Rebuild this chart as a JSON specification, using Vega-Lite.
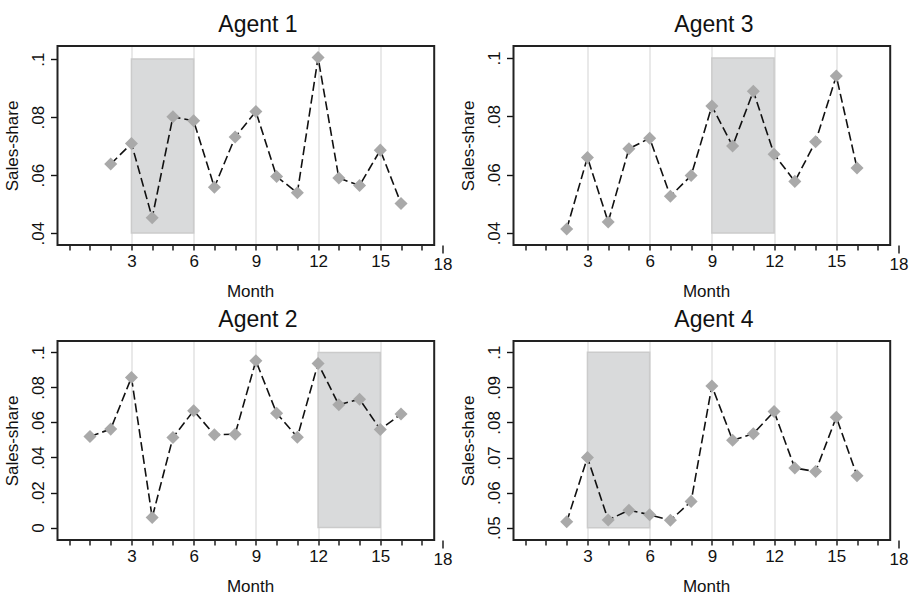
{
  "$schema": "https://vega.github.io/schema/vega-lite/v6.json",
  "padding": {"left": 3.5, "top": 14, "right": 5, "bottom": 5},
  "background": "white",
  "bounds": "flush",
  "columns": 2,
  "spacing": {"row": 96, "column": 71},
  "datasets": {
    "sales": [
      {"agent": "Agent 1", "month": 2, "share": 0.0638},
      {"agent": "Agent 1", "month": 3, "share": 0.0709},
      {"agent": "Agent 1", "month": 4, "share": 0.0453},
      {"agent": "Agent 1", "month": 5, "share": 0.0801},
      {"agent": "Agent 1", "month": 6, "share": 0.0787},
      {"agent": "Agent 1", "month": 7, "share": 0.0558},
      {"agent": "Agent 1", "month": 8, "share": 0.0731},
      {"agent": "Agent 1", "month": 9, "share": 0.0819},
      {"agent": "Agent 1", "month": 10, "share": 0.0595},
      {"agent": "Agent 1", "month": 11, "share": 0.0539},
      {"agent": "Agent 1", "month": 12, "share": 0.1005},
      {"agent": "Agent 1", "month": 13, "share": 0.059},
      {"agent": "Agent 1", "month": 14, "share": 0.0564},
      {"agent": "Agent 1", "month": 15, "share": 0.0686},
      {"agent": "Agent 1", "month": 16, "share": 0.0502},
      {"agent": "Agent 3", "month": 2, "share": 0.0414},
      {"agent": "Agent 3", "month": 3, "share": 0.0659},
      {"agent": "Agent 3", "month": 4, "share": 0.0438},
      {"agent": "Agent 3", "month": 5, "share": 0.0689},
      {"agent": "Agent 3", "month": 6, "share": 0.0725},
      {"agent": "Agent 3", "month": 7, "share": 0.0526},
      {"agent": "Agent 3", "month": 8, "share": 0.0597},
      {"agent": "Agent 3", "month": 9, "share": 0.0835},
      {"agent": "Agent 3", "month": 10, "share": 0.0698},
      {"agent": "Agent 3", "month": 11, "share": 0.0886},
      {"agent": "Agent 3", "month": 12, "share": 0.067},
      {"agent": "Agent 3", "month": 13, "share": 0.0577},
      {"agent": "Agent 3", "month": 14, "share": 0.0713},
      {"agent": "Agent 3", "month": 15, "share": 0.0938},
      {"agent": "Agent 3", "month": 16, "share": 0.0623},
      {"agent": "Agent 2", "month": 1, "share": 0.052},
      {"agent": "Agent 2", "month": 2, "share": 0.0562},
      {"agent": "Agent 2", "month": 3, "share": 0.0857},
      {"agent": "Agent 2", "month": 4, "share": 0.0057},
      {"agent": "Agent 2", "month": 5, "share": 0.0514},
      {"agent": "Agent 2", "month": 6, "share": 0.0667},
      {"agent": "Agent 2", "month": 7, "share": 0.053},
      {"agent": "Agent 2", "month": 8, "share": 0.0533},
      {"agent": "Agent 2", "month": 9, "share": 0.0952},
      {"agent": "Agent 2", "month": 10, "share": 0.0653},
      {"agent": "Agent 2", "month": 11, "share": 0.0516},
      {"agent": "Agent 2", "month": 12, "share": 0.0937},
      {"agent": "Agent 2", "month": 13, "share": 0.0701},
      {"agent": "Agent 2", "month": 14, "share": 0.0733},
      {"agent": "Agent 2", "month": 15, "share": 0.056},
      {"agent": "Agent 2", "month": 16, "share": 0.0648},
      {"agent": "Agent 4", "month": 2, "share": 0.0517},
      {"agent": "Agent 4", "month": 3, "share": 0.07},
      {"agent": "Agent 4", "month": 4, "share": 0.0522},
      {"agent": "Agent 4", "month": 5, "share": 0.055},
      {"agent": "Agent 4", "month": 6, "share": 0.0537},
      {"agent": "Agent 4", "month": 7, "share": 0.0521},
      {"agent": "Agent 4", "month": 8, "share": 0.0575},
      {"agent": "Agent 4", "month": 9, "share": 0.0904},
      {"agent": "Agent 4", "month": 10, "share": 0.0749},
      {"agent": "Agent 4", "month": 11, "share": 0.0768},
      {"agent": "Agent 4", "month": 12, "share": 0.0831},
      {"agent": "Agent 4", "month": 13, "share": 0.067},
      {"agent": "Agent 4", "month": 14, "share": 0.066},
      {"agent": "Agent 4", "month": 15, "share": 0.0815},
      {"agent": "Agent 4", "month": 16, "share": 0.0648}
    ],
    "shade": [
      {"agent": "Agent 1", "start": 3, "end": 6, "lo": 0.04, "hi": 0.1},
      {"agent": "Agent 3", "start": 9, "end": 12, "lo": 0.04, "hi": 0.1},
      {"agent": "Agent 2", "start": 12, "end": 15, "lo": 0, "hi": 0.1},
      {"agent": "Agent 4", "start": 3, "end": 6, "lo": 0.05, "hi": 0.1}
    ]
  },
  "config": {
    "view": {"stroke": null},
    "font": "Liberation Sans",
    "axis": {
      "labelFont": "Liberation Sans",
      "titleFont": "Liberation Sans",
      "labelFontSize": 17,
      "titleFontSize": 17,
      "titleFontWeight": "normal",
      "labelColor": "#111",
      "titleColor": "#111",
      "tickColor": "#111",
      "tickWidth": 1.4,
      "tickCount": 50,
      "domain": false,
      "labelOverlap": false,
      "labelFlush": false
    },
    "axisX": {
      "grid": true,
      "gridColor": "#e2e2e2",
      "gridWidth": 1.5,
      "labelPadding": 3,
      "titlePadding": 11,
      "format": "d"
    },
    "axisY": {
      "grid": false,
      "tickSize": 7,
      "labelAngle": -90,
      "labelAlign": "center",
      "labelBaseline": "bottom",
      "labelPadding": 3,
      "titlePadding": 8
    },
    "title": {"fontSize": 23, "fontWeight": "normal", "font": "Liberation Sans", "color": "#111", "dx": 8, "offset": 8}
  },
  "concat": [
    {
      "width": 385, "height": 199,
      "title": "Agent 1",
      "layer": [
        {
          "data": {"name": "shade"},
          "transform": [{"filter": "datum.agent == 'Agent 1'"}],
          "mark": {"type": "rect", "fill": "#d9dadb", "stroke": "#cbcbcb", "strokeWidth": 1.5},
          "encoding": {
            "x": {"field": "start", "type": "quantitative", "scale": {"domain": [-0.566, 18], "nice": false, "zero": false},
              "axis": {"title": "Month", "format": "d", "values": [0,1,2,3,4,5,6,7,8,9,10,11,12,13,14,15,16,17,18],
                "gridOpacity": {"condition": {"test": "datum.value % 3 == 0 && datum.value > 0 && datum.value < 18", "value": 1}, "value": 0},
                "tickSize": {"condition": {"test": "datum.value == 18", "value": 8}, "value": 5},
                "labelExpr": "datum.value % 3 == 0 && datum.value > 0 ? datum.label : ''"}},
            "x2": {"field": "end"},
            "y": {"field": "lo", "type": "quantitative", "scale": {"domain": [0.0359, 0.1045], "nice": false, "zero": false},
              "axis": {"title": "Sales-share", "values": [0.04, 0.06, 0.08, 0.1],
                "labelExpr": "datum.value == 0 ? '0' : substring(format(datum.value, '.2~f'), 1)"}},
            "y2": {"field": "hi"}
          }
        },
        {
          "data": {"name": "sales"},
          "transform": [{"filter": "datum.agent == 'Agent 1'"}],
          "mark": {"type": "line", "color": "#111", "strokeDash": [9, 4], "strokeWidth": 1.6},
          "encoding": {"x": {"field": "month", "type": "quantitative"}, "y": {"field": "share", "type": "quantitative"}}
        },
        {
          "data": {"name": "sales"},
          "transform": [{"filter": "datum.agent == 'Agent 1'"}],
          "mark": {"type": "point", "shape": "diamond", "filled": true, "color": "#a9a9a9", "size": 170, "opacity": 1},
          "encoding": {"x": {"field": "month", "type": "quantitative"}, "y": {"field": "share", "type": "quantitative"}}
        },
        {
          "data": {"values": [{}]},
          "mark": {"type": "rect", "fill": "transparent", "stroke": "#222", "strokeWidth": 2},
          "encoding": {"x": {"datum": -0.566}, "x2": {"datum": 17.6}, "y": {"datum": 0.0359}, "y2": {"datum": 0.1045}}
        }
      ]
    },
    {
      "width": 385, "height": 199,
      "title": "Agent 3",
      "layer": [
        {
          "data": {"name": "shade"},
          "transform": [{"filter": "datum.agent == 'Agent 3'"}],
          "mark": {"type": "rect", "fill": "#d9dadb", "stroke": "#cbcbcb", "strokeWidth": 1.5},
          "encoding": {
            "x": {"field": "start", "type": "quantitative", "scale": {"domain": [-0.566, 18], "nice": false, "zero": false},
              "axis": {"title": "Month", "format": "d", "values": [0,1,2,3,4,5,6,7,8,9,10,11,12,13,14,15,16,17,18],
                "gridOpacity": {"condition": {"test": "datum.value % 3 == 0 && datum.value > 0 && datum.value < 18", "value": 1}, "value": 0},
                "tickSize": {"condition": {"test": "datum.value == 18", "value": 8}, "value": 5},
                "labelExpr": "datum.value % 3 == 0 && datum.value > 0 ? datum.label : ''"}},
            "x2": {"field": "end"},
            "y": {"field": "lo", "type": "quantitative", "scale": {"domain": [0.0359, 0.1041], "nice": false, "zero": false},
              "axis": {"title": "Sales-share", "values": [0.04, 0.06, 0.08, 0.1],
                "labelExpr": "datum.value == 0 ? '0' : substring(format(datum.value, '.2~f'), 1)"}},
            "y2": {"field": "hi"}
          }
        },
        {
          "data": {"name": "sales"},
          "transform": [{"filter": "datum.agent == 'Agent 3'"}],
          "mark": {"type": "line", "color": "#111", "strokeDash": [9, 4], "strokeWidth": 1.6},
          "encoding": {"x": {"field": "month", "type": "quantitative"}, "y": {"field": "share", "type": "quantitative"}}
        },
        {
          "data": {"name": "sales"},
          "transform": [{"filter": "datum.agent == 'Agent 3'"}],
          "mark": {"type": "point", "shape": "diamond", "filled": true, "color": "#a9a9a9", "size": 170, "opacity": 1},
          "encoding": {"x": {"field": "month", "type": "quantitative"}, "y": {"field": "share", "type": "quantitative"}}
        },
        {
          "data": {"values": [{}]},
          "mark": {"type": "rect", "fill": "transparent", "stroke": "#222", "strokeWidth": 2},
          "encoding": {"x": {"datum": -0.566}, "x2": {"datum": 17.6}, "y": {"datum": 0.0359}, "y2": {"datum": 0.1041}}
        }
      ]
    },
    {
      "width": 385, "height": 199,
      "title": "Agent 2",
      "layer": [
        {
          "data": {"name": "shade"},
          "transform": [{"filter": "datum.agent == 'Agent 2'"}],
          "mark": {"type": "rect", "fill": "#d9dadb", "stroke": "#cbcbcb", "strokeWidth": 1.5},
          "encoding": {
            "x": {"field": "start", "type": "quantitative", "scale": {"domain": [-0.566, 18], "nice": false, "zero": false},
              "axis": {"title": "Month", "format": "d", "values": [0,1,2,3,4,5,6,7,8,9,10,11,12,13,14,15,16,17,18],
                "gridOpacity": {"condition": {"test": "datum.value % 3 == 0 && datum.value > 0 && datum.value < 18", "value": 1}, "value": 0},
                "tickSize": {"condition": {"test": "datum.value == 18", "value": 8}, "value": 5},
                "labelExpr": "datum.value % 3 == 0 && datum.value > 0 ? datum.label : ''"}},
            "x2": {"field": "end"},
            "y": {"field": "lo", "type": "quantitative", "scale": {"domain": [-0.0071, 0.1065], "nice": false, "zero": false},
              "axis": {"title": "Sales-share", "values": [0, 0.02, 0.04, 0.06, 0.08, 0.1],
                "labelExpr": "datum.value == 0 ? '0' : substring(format(datum.value, '.2~f'), 1)"}},
            "y2": {"field": "hi"}
          }
        },
        {
          "data": {"name": "sales"},
          "transform": [{"filter": "datum.agent == 'Agent 2'"}],
          "mark": {"type": "line", "color": "#111", "strokeDash": [9, 4], "strokeWidth": 1.6},
          "encoding": {"x": {"field": "month", "type": "quantitative"}, "y": {"field": "share", "type": "quantitative"}}
        },
        {
          "data": {"name": "sales"},
          "transform": [{"filter": "datum.agent == 'Agent 2'"}],
          "mark": {"type": "point", "shape": "diamond", "filled": true, "color": "#a9a9a9", "size": 170, "opacity": 1},
          "encoding": {"x": {"field": "month", "type": "quantitative"}, "y": {"field": "share", "type": "quantitative"}}
        },
        {
          "data": {"values": [{}]},
          "mark": {"type": "rect", "fill": "transparent", "stroke": "#222", "strokeWidth": 2},
          "encoding": {"x": {"datum": -0.566}, "x2": {"datum": 17.6}, "y": {"datum": -0.0071}, "y2": {"datum": 0.1065}}
        }
      ]
    },
    {
      "width": 385, "height": 199,
      "title": "Agent 4",
      "layer": [
        {
          "data": {"name": "shade"},
          "transform": [{"filter": "datum.agent == 'Agent 4'"}],
          "mark": {"type": "rect", "fill": "#d9dadb", "stroke": "#cbcbcb", "strokeWidth": 1.5},
          "encoding": {
            "x": {"field": "start", "type": "quantitative", "scale": {"domain": [-0.566, 18], "nice": false, "zero": false},
              "axis": {"title": "Month", "format": "d", "values": [0,1,2,3,4,5,6,7,8,9,10,11,12,13,14,15,16,17,18],
                "gridOpacity": {"condition": {"test": "datum.value % 3 == 0 && datum.value > 0 && datum.value < 18", "value": 1}, "value": 0},
                "tickSize": {"condition": {"test": "datum.value == 18", "value": 8}, "value": 5},
                "labelExpr": "datum.value % 3 == 0 && datum.value > 0 ? datum.label : ''"}},
            "x2": {"field": "end"},
            "y": {"field": "lo", "type": "quantitative", "scale": {"domain": [0.0465, 0.1032], "nice": false, "zero": false},
              "axis": {"title": "Sales-share", "values": [0.05, 0.06, 0.07, 0.08, 0.09, 0.1],
                "labelExpr": "datum.value == 0 ? '0' : substring(format(datum.value, '.2~f'), 1)"}},
            "y2": {"field": "hi"}
          }
        },
        {
          "data": {"name": "sales"},
          "transform": [{"filter": "datum.agent == 'Agent 4'"}],
          "mark": {"type": "line", "color": "#111", "strokeDash": [9, 4], "strokeWidth": 1.6},
          "encoding": {"x": {"field": "month", "type": "quantitative"}, "y": {"field": "share", "type": "quantitative"}}
        },
        {
          "data": {"name": "sales"},
          "transform": [{"filter": "datum.agent == 'Agent 4'"}],
          "mark": {"type": "point", "shape": "diamond", "filled": true, "color": "#a9a9a9", "size": 170, "opacity": 1},
          "encoding": {"x": {"field": "month", "type": "quantitative"}, "y": {"field": "share", "type": "quantitative"}}
        },
        {
          "data": {"values": [{}]},
          "mark": {"type": "rect", "fill": "transparent", "stroke": "#222", "strokeWidth": 2},
          "encoding": {"x": {"datum": -0.566}, "x2": {"datum": 17.6}, "y": {"datum": 0.0465}, "y2": {"datum": 0.1032}}
        }
      ]
    }
  ]
}
